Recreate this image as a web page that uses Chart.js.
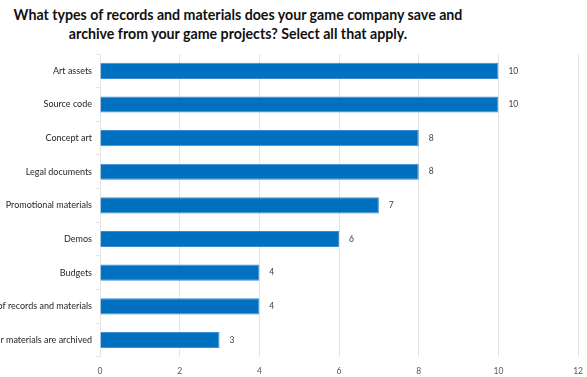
<!DOCTYPE html>
<html>
<head>
<meta charset="utf-8">
<script src="https://cdn.jsdelivr.net/npm/chart.js@4"></script>
<style>
  body { margin: 0; background: #fff; width: 587px; height: 377px; overflow: hidden; position: relative; }
  .chart-header {
    position: absolute; left: 0; top: 5px; width: 476px; margin: 0;
    font: bold 14.2px Lato, sans-serif; text-align: center; line-height: 19px; color: #111;
  }
  .chart-wrapper { position: absolute; left: 0; top: 44px; width: 592px; height: 343px; }
</style>
</head>
<body>
<h2 class="chart-header">What types of records and materials does your game company save and<br>archive from your game projects? Select all that apply.</h2>
<div class="chart-wrapper"><canvas id="myChart"></canvas></div>
<script>
const categories = [
  'Art assets',
  'Source code',
  'Concept art',
  'Legal documents',
  'Promotional materials',
  'Demos',
  'Budgets',
  'Not sure of the types of records and materials',
  'No records or materials are archived'
];
const counts = [10, 10, 8, 8, 7, 6, 4, 4, 3];
const xTicks = [0, 2, 4, 6, 8, 10, 12];

// write the count just past the end of each bar
const valueLabels = {
  id: 'valueLabels',
  afterDatasetsDraw(chart) {
    const ctx = chart.ctx;
    const meta = chart.getDatasetMeta(0);
    ctx.save();
    ctx.font = '8.5px Lato, sans-serif';
    ctx.fillStyle = '#404040';
    ctx.textBaseline = 'middle';
    meta.data.forEach((bar, i) => {
      ctx.fillText(counts[i], bar.x + 10, bar.y);
    });
    ctx.restore();
  }
};

const data = {
  labels: categories,
  datasets: [{
    data: counts,
    backgroundColor: '#0070C0',
    borderColor: '#3d8bd0',
    borderWidth: 1,
    categoryPercentage: 0.48,
    barPercentage: 1
  }]
};

const config = {
  type: 'bar',
  data: data,
  options: {
    indexAxis: 'y',
    responsive: true,
    maintainAspectRatio: false,
    animation: false,
    layout: { padding: { top: 10, right: 0, bottom: 2, left: 0 } },
    plugins: { legend: { display: false }, tooltip: { enabled: false } },
    scales: {
      x: {
        min: 0,
        max: 12,
        afterBuildTicks: (axis) => { axis.ticks = xTicks.map(v => ({ value: v })); },
        grid: { color: '#e4e4e4', drawTicks: false },
        border: { display: false },
        ticks: { color: '#595959', font: { family: 'Lato', size: 8.5 }, padding: 9 }
      },
      y: {
        afterFit: (axis) => { axis.width = 100; },
        grid: { drawOnChartArea: false, color: '#e4e4e4', tickLength: 4, offset: true },
        border: { color: '#e4e4e4' },
        ticks: { color: '#262626', font: { family: 'Lato', size: 9 }, padding: 4 }
      }
    }
  },
  plugins: [valueLabels]
};

const myChart = new Chart(document.getElementById('myChart'), config);
</script>
</body>
</html>
